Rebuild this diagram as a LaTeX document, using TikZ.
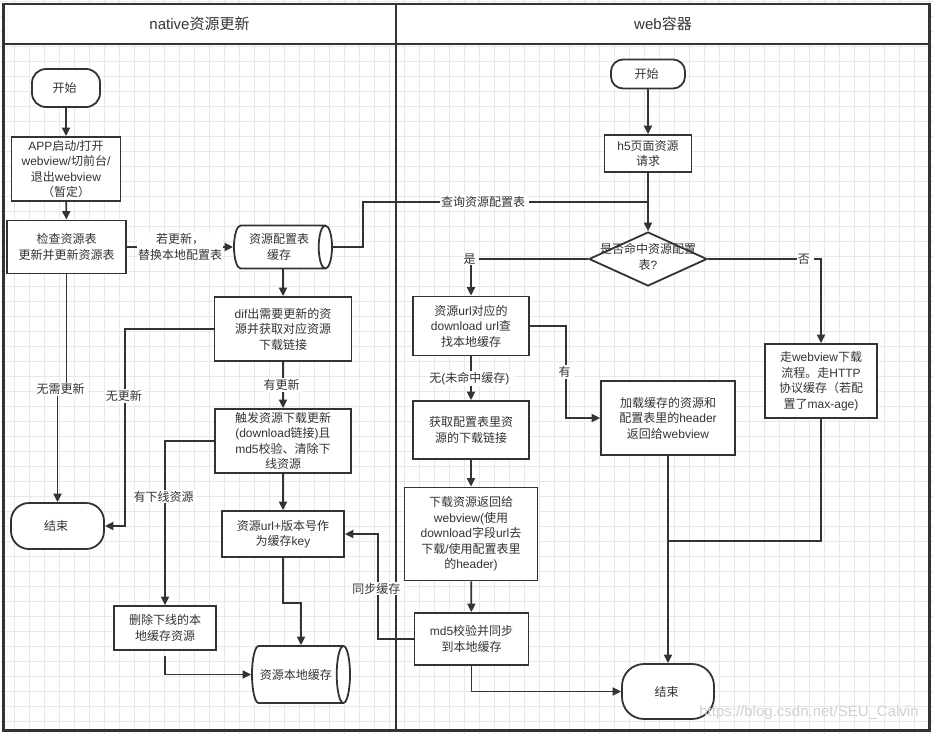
\documentclass[tikz,border=0pt]{standalone}
\usepackage{fontspec}
\setmainfont{Liberation Sans}
\newfontfamily\cjkfont{Noto Sans CJK SC}
\newfontfamily\latinfont{Liberation Sans}
\usetikzlibrary{shapes.geometric,arrows.meta}
\definecolor{linec}{HTML}{333333}
\definecolor{textc}{HTML}{333333}
\definecolor{gridc}{HTML}{E8E8E8}
\newXeTeXintercharclass\cjkclass
\newcount\cjkcode
\cjkcode="3000
\loop\XeTeXcharclass\cjkcode=\cjkclass\ifnum\cjkcode<"303F\advance\cjkcode by 1\repeat
\cjkcode="4E00
\loop\XeTeXcharclass\cjkcode=\cjkclass\ifnum\cjkcode<"9FFF\advance\cjkcode by 1\repeat
\cjkcode="FF00
\loop\XeTeXcharclass\cjkcode=\cjkclass\ifnum\cjkcode<"FFEF\advance\cjkcode by 1\repeat
\XeTeXinterchartoks 0 \cjkclass = {\cjkfont}
\XeTeXinterchartoks 4095 \cjkclass = {\cjkfont}
\XeTeXinterchartoks \cjkclass 0 = {\latinfont}
\XeTeXinterchartoks 4095 0 = {\latinfont}

\begin{document}
\XeTeXinterchartokenstate=1
\begin{tikzpicture}[x=1pt, y=-1pt,
    box/.style={draw=linec, line width=1.8pt, fill=white, align=center, inner sep=0pt,
        text=textc, font=\fontsize{12}{15.5}\selectfont},
    terminal/.style={box, rounded corners=#1},
    store/.style={box, cylinder, anchor=shape center},
    flow/.style={draw=linec, line width=1.8pt, -{Triangle[length=8.5pt,width=8pt]}},
    link/.style={draw=linec, line width=1.8pt},
    lbl/.style={fill=white, inner sep=1pt, align=center, text=textc,
        font=\fontsize{12}{15.5}\selectfont},
    lanehead/.style={text=textc, font=\fontsize{15}{18}\selectfont}]
        \useasboundingbox (0,0) rectangle (934,734);
        \fill[white] (0,0) rectangle (934,734);
        \foreach \gx in {14,29,...,929}
            \draw[gridc, line width=0.9pt] (\gx,0) -- (\gx,734);
        \foreach \gy in {1.7,16.7,...,731.7}
            \draw[gridc, line width=0.9pt] (0,\gy) -- (934,\gy);
        \draw[linec, line width=2.2pt] (3.5,4) rectangle (929.5,730.5);
        \filldraw[fill=white, draw=linec, line width=2.2pt] (3.5,4) rectangle (929.5,43.7);
        \draw[linec, line width=2.2pt] (396,4) -- (396,730.5);
        \node[lanehead] (NativeHead) at (199.5,23.5) {native资源更新};
        \node[lanehead] (WebHead) at (663,23.5) {web容器};

        \node[terminal=14pt, minimum width=68pt, minimum height=38pt] (StartNative) at (66,88) {
            开始
        };
        \node[box, minimum width=109pt, minimum height=64pt] (AppLaunch) at (66,169) {
            APP启动/打开\\webview/切前台/\\退出webview\\（暂定）
        };
        \node[box, minimum width=119pt, minimum height=53pt] (CheckTable) at (66.5,247) {
            检查资源表\\更新并更新资源表
        };
        \node[store, aspect=0.5, minimum height=98pt, minimum width=43pt] (ConfigCache) at (283,247) {
            资源配置表\\缓存
        };
        \node[box, minimum width=137pt, minimum height=64pt] (DiffRes) at (283,329) {
            dif出需要更新的资\\源并获取对应资源\\下载链接
        };
        \node[box, minimum width=136pt, minimum height=64pt] (TriggerDownload) at (283,441) {
            触发资源下载更新\\(download链接)且\\md5校验、清除下\\线资源
        };
        \node[box, minimum width=122pt, minimum height=46pt] (CacheKey) at (283,534) {
            资源url+版本号作\\为缓存key
        };
        \node[box, minimum width=102pt, minimum height=44pt] (DeleteOffline) at (165,628) {
            删除下线的本\\地缓存资源
        };
        \node[store, aspect=1.2, minimum height=98pt, minimum width=57pt] (LocalCache) at (301,674.5) {
            资源本地缓存
        };
        \node[terminal=18pt, minimum width=93pt, minimum height=46pt] (EndNative) at (57.5,526) {
            结束
        };

        \node[terminal=12pt, minimum width=74pt, minimum height=29pt] (StartWeb) at (648,74) {
            开始
        };
        \node[box, minimum width=87pt, minimum height=37pt] (H5Request) at (648,153.5) {
            h5页面资源\\请求
        };
        \node[box, diamond, minimum width=118pt, minimum height=54pt] (HitConfig) at (648,259) {};
        \node[lbl, fill=none] (HitConfigText) at (648,257) {
            是否命中资源配置\\表?
        };
        \node[box, minimum width=116pt, minimum height=59pt] (FindLocal) at (471,326) {
            资源url对应的\\download url查\\找本地缓存
        };
        \node[box, minimum width=116pt, minimum height=58pt] (GetLink) at (471,430) {
            获取配置表里资\\源的下载链接
        };
        \node[box, minimum width=133pt, minimum height=93pt] (DownloadRes) at (471,534) {
            下载资源返回给\\webview(使用\\download字段url去\\下载/使用配置表里\\的header)
        };
        \node[box, minimum width=114pt, minimum height=52pt] (Md5Sync) at (471.5,639) {
            md5校验并同步\\到本地缓存
        };
        \node[box, minimum width=134pt, minimum height=74pt] (LoadCache) at (668,418) {
            加载缓存的资源和\\配置表里的header\\返回给webview
        };
        \node[box, minimum width=112pt, minimum height=74pt] (WebviewFlow) at (821,381) {
            走webview下载\\流程。走HTTP\\协议缓存（若配\\置了max-age)
        };
        \node[terminal=22pt, minimum width=92pt, minimum height=55pt] (EndWeb) at (668,691.5) {
            结束
        };
        \coordinate (QueryJoin) at (648,202);
        \coordinate (FlowJoin) at (668,541);

        \draw[flow] (StartNative) -- (AppLaunch);
        \draw[flow] (AppLaunch) -- (CheckTable);
        \draw[flow] (CheckTable.east) to node[lbl] (IfUpdateLbl) {
            若更新，\\替换本地配置表
        } (ConfigCache.west);
        \draw[link] (ConfigCache.east) -- ++(30,0) |- (QueryJoin) node[lbl, pos=0.713] (QueryLbl) {
            查询资源配置表
        };
        \draw[flow] (ConfigCache.shape center |- ConfigCache.south) -- (DiffRes.north);
        \draw[flow] (DiffRes.west) -- ++(-88.5,0) |- (EndNative.east) node[lbl, pos=0.17] (NoUpdateLbl) {
            无更新
        };
        \draw[flow] (CheckTable.south) -- ++(0,115) -| (EndNative.north) node[lbl, pos=0.25] (NoNeedLbl) {
            无需更新
        };
        \draw[flow] (DiffRes) to node[lbl] (HasUpdateLbl) {
            有更新
        } (TriggerDownload);
        \draw[flow] (TriggerDownload.west) -| (DeleteOffline.north) node[lbl, pos=0.67] (OfflineLbl) {
            有下线资源
        };
        \draw[flow] (TriggerDownload) -- (CacheKey);
        \draw[flow] (CacheKey.south) -- ++(0,45) -| (LocalCache.shape center |- LocalCache.north);
        \draw[flow, shorten <=5pt] (DeleteOffline.south) |- (LocalCache.west);
        \draw[flow] (Md5Sync.west) -- ++(-36,0) |- (CacheKey.east) node[lbl, pos=0.24] (SyncLbl) {
            同步缓存
        };

        \draw[flow] (StartWeb) -- (H5Request);
        \draw[flow] (H5Request) -- (HitConfig);
        \draw[flow] (HitConfig.west) -| (FindLocal.north) node[lbl, pos=0.5] (YesLbl) {
            是
        };
        \draw[flow] (HitConfig.east) -| (WebviewFlow.north) node[lbl, pos=0.43] (NoLbl) {
            否
        };
        \draw[flow] (FindLocal.east) -- ++(36,0) |- (LoadCache.west) node[lbl, pos=0.25] (HitLbl) {
            有
        };
        \draw[flow] (FindLocal) to node[lbl] (MissLbl) {
            无(未命中缓存)
        } (GetLink);
        \draw[flow] (GetLink) -- (DownloadRes);
        \draw[flow] (DownloadRes) -- (Md5Sync);
        \draw[flow] (Md5Sync.south) |- (EndWeb.west);
        \draw[flow] (LoadCache) -- (EndWeb);
        \draw[link] (WebviewFlow.south) |- (FlowJoin);

        \node[text=black!18, font=\fontsize{15}{15}\selectfont] (Watermark) at (809,713) {
            https://blog.csdn.net/SEU\_Calvin
        };
\end{tikzpicture}
\end{document}
